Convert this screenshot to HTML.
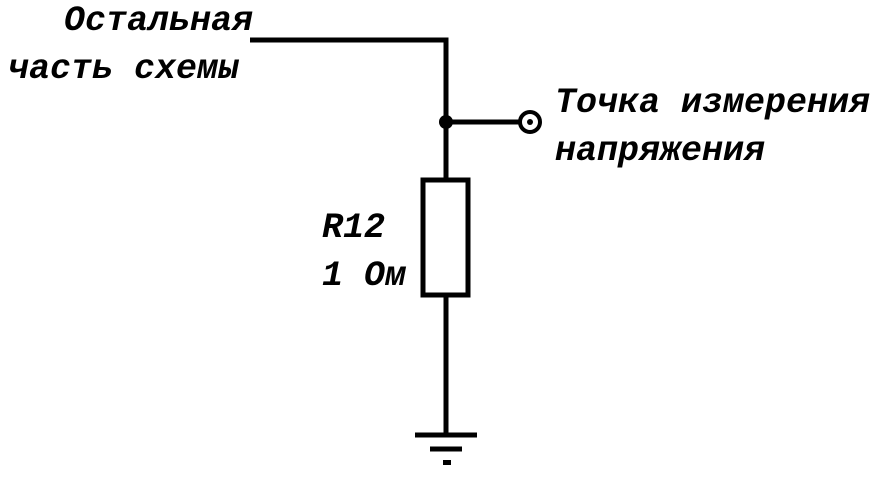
<!DOCTYPE html>
<html><head><meta charset="utf-8"><style>
body{margin:0;background:#fff;width:886px;height:478px;overflow:hidden}
svg text{font-family:"Liberation Mono","DejaVu Sans Mono",monospace;font-style:italic;font-weight:bold;font-size:35px;fill:#000}
</style></head><body>
<svg width="886" height="478" viewBox="0 0 886 478" xmlns="http://www.w3.org/2000/svg">
<g stroke="#000" stroke-width="5" fill="none">
<polyline points="250,40 446,40 446,178"/>
<line x1="446" y1="122" x2="520" y2="122"/>
<circle cx="530" cy="122" r="10" stroke-width="4"/>
<rect x="423" y="180" width="45" height="115"/>
<line x1="446" y1="296" x2="446" y2="435"/>
<line x1="415" y1="435" x2="477" y2="435"/>
<line x1="430" y1="449" x2="462" y2="449"/>
</g>
<circle cx="446" cy="122" r="7" fill="#000"/>
<circle cx="530" cy="122" r="3" fill="#000"/>
<rect x="443" y="460" width="8" height="5" fill="#000"/>
<text x="64" y="30">Остальная</text>
<text x="8" y="78">часть схемы</text>
<text x="555" y="112">Точка измерения</text>
<text x="555" y="160">напряжения</text>
<text x="322" y="237">R12</text>
<text x="322" y="285">1 Ом</text>
</svg>
</body></html>
